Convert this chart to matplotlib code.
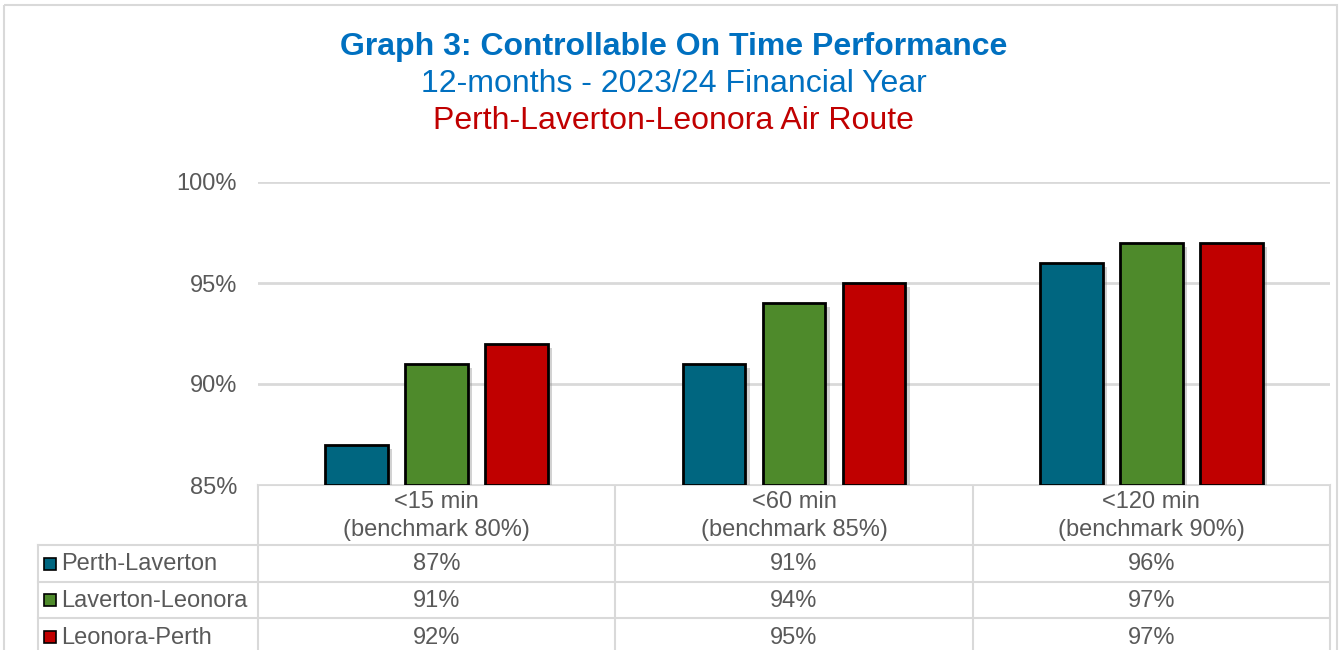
import matplotlib.pyplot as plt
import matplotlib.patheffects as pe
from matplotlib.patches import Rectangle
import numpy as np

plt.rcParams['font.family'] = ['Liberation Sans', 'DejaVu Sans']

# chart data
categories = ['<15 min\n(benchmark 80%)', '<60 min\n(benchmark 85%)', '<120 min\n(benchmark 90%)']
series_names = ['Perth-Laverton', 'Laverton-Leonora', 'Leonora-Perth']
perth_laverton = [87, 91, 96]
laverton_leonora = [91, 94, 97]
leonora_perth = [92, 95, 97]
y_ticks = [85, 90, 95, 100]

series_values = [perth_laverton, laverton_leonora, leonora_perth]
colors = ['#006680', '#4E8A2B', '#C00000']
text_gray = '#595959'
line_gray = '#D9D9D9'

W, H = 1341, 650
fig = plt.figure(figsize=(W / 100, H / 100), dpi=100)

# plot area (pixel layout)
ax_l, ax_r, ax_t, ax_b = 258, 1330, 182, 485
ax = fig.add_axes([ax_l / W, 1 - ax_b / H, (ax_r - ax_l) / W, (ax_b - ax_t) / H])
x = np.arange(len(categories))
step = 0.224
width = 0.176
shadow = [pe.SimplePatchShadow(offset=(3, -3), shadow_rgbFace='#7f7f7f', alpha=0.35), pe.Normal()]
for i, (vals, col) in enumerate(zip(series_values, colors)):
    bars = ax.bar(x + (i - 1) * step, np.array(vals) - y_ticks[0], bottom=y_ticks[0], width=width,
                  color=col, edgecolor='black', linewidth=2, zorder=3)
    for b in bars:
        b.set_path_effects(shadow)
ax.set_xlim(-0.5, len(categories) - 0.5)
ax.set_ylim(y_ticks[0], y_ticks[-1])
ax.set_yticks(y_ticks)
ax.set_yticklabels([f'{t}%' for t in y_ticks], fontsize=17, color=text_gray)
ax.tick_params(axis='y', length=0, pad=15)
ax.set_xticks([])
ax.grid(axis='y', color=line_gray, linewidth=2, zorder=0)
for s in ax.spines.values():
    s.set_visible(False)

# overlay in pixel coordinates for titles and the data table
ov = fig.add_axes([0, 0, 1, 1], zorder=-1)
ov.set_xlim(0, W)
ov.set_ylim(H, 0)
ov.axis('off')
ov.add_patch(Rectangle((4, 5), W - 8, H + 10, fill=False, edgecolor=line_gray, linewidth=1.5))

ov.text(W / 2 + 3, 47, 'Graph 3: Controllable On Time Performance', ha='center', va='center',
        fontsize=23, fontweight='bold', color='#0070C0')
ov.text(W / 2 + 3, 84, '12-months - 2023/24 Financial Year', ha='center', va='center',
        fontsize=23, color='#0070C0')
ov.text(W / 2 + 3, 121, 'Perth-Laverton-Leonora Air Route', ha='center', va='center',
        fontsize=23, color='#C00000')

# table
col_w = (ax_r - ax_l) / len(categories)
col_edges = [ax_l + k * col_w for k in range(len(categories) + 1)]
row_edges = [545, 582, 618, 655]
lbl_left = 38
lw = 1.5
ov.plot([ax_l, ax_r], [ax_b, ax_b], color=line_gray, lw=lw)
for xe in col_edges:
    ov.plot([xe, xe], [ax_b, H], color=line_gray, lw=lw)
ov.plot([lbl_left, lbl_left], [row_edges[0], H], color=line_gray, lw=lw)
for ye in row_edges[:-1]:
    ov.plot([lbl_left, ax_r], [ye, ye], color=line_gray, lw=lw)

for k, cat in enumerate(categories):
    cx = (col_edges[k] + col_edges[k + 1]) / 2
    ov.text(cx, (ax_b + row_edges[0]) / 2 + 1, cat, ha='center', va='center', fontsize=17,
            color=text_gray, linespacing=1.4)
for r, (name, vals, col) in enumerate(zip(series_names, series_values, colors)):
    cy = (row_edges[r] + row_edges[r + 1]) / 2 + 1
    ov.add_patch(Rectangle((44, cy - 7), 12, 12, facecolor=col, edgecolor='black', linewidth=1.2))
    ov.text(61, cy, name, ha='left', va='center', fontsize=17, color=text_gray)
    for k, v in enumerate(vals):
        cx = (col_edges[k] + col_edges[k + 1]) / 2
        ov.text(cx, cy, f'{v}%', ha='center', va='center', fontsize=17, color=text_gray)

fig.savefig('out.png', dpi=100)
